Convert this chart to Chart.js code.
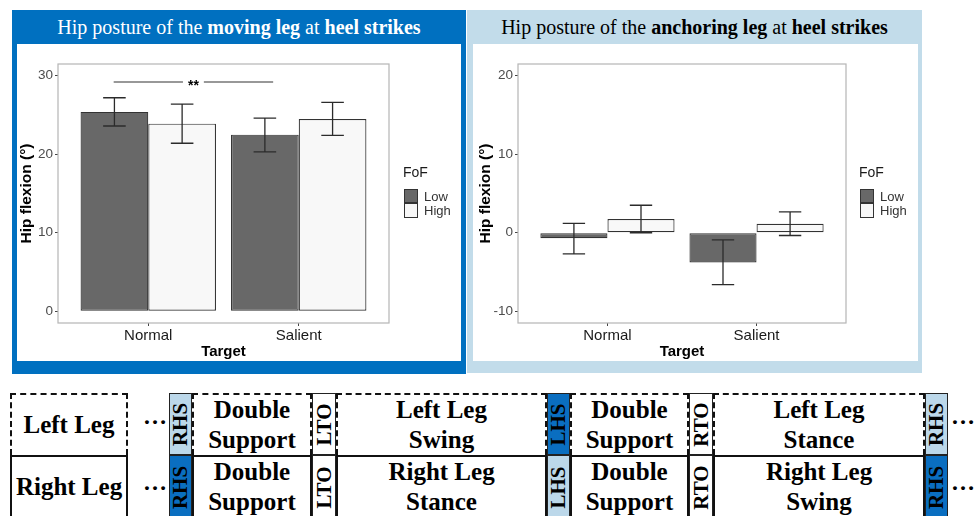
<!DOCTYPE html>
<html><head><meta charset="utf-8">
<script src="https://cdn.jsdelivr.net/npm/chart.js@4.4.1/dist/chart.umd.min.js"></script>
<style>
html,body{margin:0;padding:0;background:#fff;width:978px;height:516px;overflow:hidden;position:relative;font-family:'Liberation Sans',Arial,sans-serif}
.abs{position:absolute;box-sizing:border-box}
.title{font-family:'Liberation Serif','Times New Roman',serif;font-size:20px;text-align:center;line-height:34px;white-space:nowrap}
.inner{background:#fff}
.leg{position:absolute;font-family:'Liberation Sans',Arial,sans-serif}
.gcell{position:absolute;box-sizing:border-box;display:flex;align-items:center;justify-content:center;text-align:center;font-family:'Liberation Serif','Times New Roman',serif;font-weight:bold;color:#000;white-space:pre;line-height:30px;font-size:25px}
.ev{position:absolute;box-sizing:border-box;border:1.5px solid #222;display:flex;align-items:center;justify-content:center}
.ev span{display:block;transform:rotate(-90deg);font-family:'Liberation Serif','Times New Roman',serif;font-weight:bold;font-size:21px;color:#000;white-space:nowrap}
</style></head><body>

<div class="abs" style="left:12px;top:10px;width:454px;height:364px;background:#0070c0"></div>
<div class="abs title" style="left:12px;top:10px;width:454px;height:34px;color:#fff">Hip posture of the <b>moving leg</b> at <b>heel strikes</b></div>
<div class="abs inner" id="innerL" style="left:17px;top:44px;width:444px;height:317px"><canvas id="cL" width="444" height="317"></canvas></div>

<div class="abs" style="left:467px;top:10px;width:455px;height:363px;background:#c2dcea"></div>
<div class="abs title" style="left:467px;top:10px;width:455px;height:34px;color:#000">Hip posture of the <b>anchoring leg</b> at <b>heel strikes</b></div>
<div class="abs inner" id="innerR" style="left:473px;top:44px;width:445px;height:317px"><canvas id="cR" width="445" height="317"></canvas></div>

<div id="gait"></div>

<script>
// ---------- data ----------
const categories = ['Normal', 'Salient'];
const seriesNames = ['Low', 'High'];
const legendTitle = 'FoF';

// moving leg (left panel)
const moveLowMean  = [25.4, 22.5];
const moveLowLo    = [23.6, 20.3];
const moveLowHi    = [27.2, 24.6];
const moveHighMean = [23.9, 24.5];
const moveHighLo   = [21.4, 22.4];
const moveHighHi   = [26.4, 26.6];
const moveYTicks   = [0, 10, 20, 30];
const moveSig      = { from: 0.77, to: 1.83, y: 29.2, label: '**' };

// anchoring leg (right panel)
const anchorLowMean  = [-0.7, -3.8];
const anchorLowLo    = [-2.7, -6.6];
const anchorLowHi    = [1.2, -0.9];
const anchorHighMean = [1.75, 1.15];
const anchorHighLo   = [0.0, -0.35];
const anchorHighHi   = [3.5, 2.65];
const anchorYTicks   = [-10, 0, 10, 20];

// gait diagram
const gaitRowLabels = ['Left Leg', 'Right Leg'];
const gaitEvents = ['RHS', 'LTO', 'LHS', 'RTO', 'RHS'];
const gaitTop    = ['Double\nSupport', 'Left Leg\nSwing', 'Double\nSupport', 'Left Leg\nStance'];
const gaitBottom = ['Double\nSupport', 'Right Leg\nStance', 'Double\nSupport', 'Right Leg\nSwing'];
const eventTopKind    = ['light', 'white', 'dark', 'white', 'light'];
const eventBottomKind = ['dark', 'white', 'light', 'white', 'dark'];

// ---------- styles ----------
const FILL_LOW = '#686868', FILL_HIGH = '#f8f8f8', EDGE = '#333333';
const FONT = "'Liberation Sans', Arial, sans-serif";

const errorBars = {
  id: 'errorBars',
  afterDatasetsDraw(chart) {
    const ctx = chart.ctx, y = chart.scales.y;
    ctx.save();
    ctx.strokeStyle = '#2b2b2b'; ctx.lineWidth = 1.3;
    chart.data.datasets.forEach((ds, di) => {
      const meta = chart.getDatasetMeta(di);
      meta.data.forEach((bar, i) => {
        const x = bar.x, cap = bar.width / 3;
        const y1 = y.getPixelForValue(ds.errLo[i]), y2 = y.getPixelForValue(ds.errHi[i]);
        ctx.beginPath();
        ctx.moveTo(x, y1); ctx.lineTo(x, y2);
        ctx.moveTo(x - cap / 2, y1); ctx.lineTo(x + cap / 2, y1);
        ctx.moveTo(x - cap / 2, y2); ctx.lineTo(x + cap / 2, y2);
        ctx.stroke();
      });
    });
    ctx.restore();
  }
};
const frame = {
  id: 'frame',
  afterDraw(chart) {
    const a = chart.chartArea, ctx = chart.ctx;
    ctx.save(); ctx.strokeStyle = '#b5b5b5'; ctx.lineWidth = 1.2;
    ctx.strokeRect(a.left, a.top, a.right - a.left, a.bottom - a.top);
    ctx.restore();
  }
};
const sigBar = {
  id: 'sigBar',
  afterDatasetsDraw(chart, args, opts) {
    const s = opts.sig; if (!s) return;
    const ctx = chart.ctx, xs = chart.scales.x, ys = chart.scales.y;
    const x1 = xs.getPixelForValue(s.from), x2 = xs.getPixelForValue(s.to);
    const yy = ys.getPixelForValue(s.y), xm = (x1 + x2) / 2;
    ctx.save();
    ctx.font = 'bold 14px ' + FONT;
    const w = ctx.measureText(s.label).width;
    ctx.strokeStyle = '#333'; ctx.lineWidth = 1.1;
    ctx.beginPath();
    ctx.moveTo(x1, yy); ctx.lineTo(xm - w / 2 - 5, yy);
    ctx.moveTo(xm + w / 2 + 5, yy); ctx.lineTo(x2, yy);
    ctx.stroke();
    ctx.fillStyle = '#000'; ctx.textAlign = 'center'; ctx.textBaseline = 'middle';
    ctx.fillText(s.label, xm, yy + 4);
    ctx.restore();
  }
};

function makeChart(id, low, lowLo, lowHi, high, highLo, highHi, yTicks, yMin, yMax, yWidth, padLeft, sig) {
  const mk = (name, means, fill, lo, hi) => ({
    label: name,
    data: means.map((v, i) => ({ x: i + 1, y: v })),
    backgroundColor: fill, borderColor: EDGE, borderWidth: 1.2, borderSkipped: false,
    categoryPercentage: 0.9, barPercentage: 1.0,
    errLo: lo, errHi: hi
  });
  return new Chart(document.getElementById(id), {
    type: 'bar',
    data: { datasets: [mk(seriesNames[0], low, FILL_LOW, lowLo, lowHi), mk(seriesNames[1], high, FILL_HIGH, highLo, highHi)] },
    options: {
      responsive: false, animation: false,
      layout: { padding: { left: padLeft, right: 72, top: 20, bottom: 0 } },
      plugins: { legend: { display: false }, tooltip: { enabled: false }, sigBar: { sig: sig } },
      scales: {
        x: {
          type: 'linear', min: 0.4, max: 2.6, offset: false,
          afterBuildTicks: s => { s.ticks = categories.map((c, i) => ({ value: i + 1 })); },
          afterFit: s => { s.height = 38; },
          ticks: { callback: v => categories[v - 1], font: { family: FONT, size: 15 }, color: '#1a1a1a', padding: 1, maxRotation: 0, autoSkip: false },
          grid: { offset: false, drawOnChartArea: false, drawTicks: true, tickLength: 3, color: '#444', lineWidth: 1 },
          border: { display: false },
          title: { display: true, text: 'Target', font: { family: FONT, size: 15, weight: 'bold' }, color: '#000', padding: { top: 0, bottom: 0 } }
        },
        y: {
          min: yMin, max: yMax,
          afterBuildTicks: s => { s.ticks = yTicks.map(v => ({ value: v })); },
          afterFit: s => { s.width = yWidth; },
          ticks: { font: { family: FONT, size: 13.5 }, color: '#4d4d4d', padding: 2 },
          grid: { drawOnChartArea: false, drawTicks: true, tickLength: 3, color: '#444', lineWidth: 1 },
          border: { display: false },
          title: { display: true, text: 'Hip flexion (°)', font: { family: FONT, size: 15.5, weight: 'bold' }, color: '#000', padding: { top: 0, bottom: 0 } }
        }
      }
    },
    plugins: [errorBars, sigBar, frame]
  });
}

makeChart('cL', moveLowMean, moveLowLo, moveLowHi, moveHighMean, moveHighLo, moveHighHi, moveYTicks, -1.5, 31.5, 41, 0, moveSig);
makeChart('cR', anchorLowMean, anchorLowLo, anchorLowHi, anchorHighMean, anchorHighLo, anchorHighHi, anchorYTicks, -11.5, 21.5, 42, 3, null);

// legends
function addLegend(parentId) {
  const p = document.getElementById(parentId);
  const t = document.createElement('div');
  t.className = 'leg'; t.textContent = legendTitle;
  t.style.cssText = 'left:386px;top:119px;font-size:14px;color:#1a1a1a;line-height:18px';
  p.appendChild(t);
  [FILL_LOW, FILL_HIGH].forEach((f, i) => {
    const b = document.createElement('div');
    b.className = 'leg';
    b.style.cssText = `left:387px;top:${145 + i * 14.4}px;width:14px;height:14.4px;box-sizing:border-box;border:1.2px solid ${EDGE};background:${f}`;
    p.appendChild(b);
    const l = document.createElement('div');
    l.className = 'leg'; l.textContent = seriesNames[i];
    l.style.cssText = `left:407px;top:${144.5 + i * 14.6}px;font-size:13px;color:#333;line-height:16px`;
    p.appendChild(l);
  });
}
addLegend('innerL');
addLegend('innerR');

// gait diagram
(function () {
  const g = document.getElementById('gait');
  const rowY = [393, 455], rowH = [62, 64];
  const evX = [[169, 192], [312, 336], [547, 570], [689, 713], [925, 948]];
  const phX = [[192, 312], [336, 547], [570, 689], [713, 925]];
  const kindColor = { light: '#bcd8ea', dark: '#0a6ec0', white: '#ffffff' };
  const add = (cls, x, y, w, h, css, html) => {
    const d = document.createElement('div'); d.className = cls;
    d.style.cssText = `left:${x}px;top:${y}px;width:${w}px;height:${h}px;` + css;
    if (html !== undefined) d.innerHTML = html;
    g.appendChild(d); return d;
  };
  const topBorder = 'border:2px dashed #111;border-bottom:none;';
  const botBorder = 'border:2px solid #111;';
  add('gcell', 10, rowY[0], 118, rowH[0], topBorder, '').textContent = gaitRowLabels[0];
  add('gcell', 10, rowY[1], 118, rowH[1], botBorder, '').textContent = gaitRowLabels[1];
  phX.forEach((p, i) => {
    add('gcell', p[0], rowY[0], p[1] - p[0], rowH[0], topBorder).textContent = gaitTop[i];
    add('gcell', p[0], rowY[1], p[1] - p[0], rowH[1], botBorder).textContent = gaitBottom[i];
  });
  evX.forEach((e, i) => {
    add('ev', e[0], rowY[0], e[1] - e[0], rowH[0], `background:${kindColor[eventTopKind[i]]}`, `<span>${gaitEvents[i]}</span>`);
    add('ev', e[0], rowY[1], e[1] - e[0], rowH[1], `background:${kindColor[eventBottomKind[i]]}`, `<span>${gaitEvents[i]}</span>`);
  });
  [[143, 399], [143, 465], [951, 399], [951, 465]].forEach(p => {
    add('gcell', p[0], p[1], 26, 34, 'font-size:24px;justify-content:flex-start', '…');
  });
})();
</script>
</body></html>
